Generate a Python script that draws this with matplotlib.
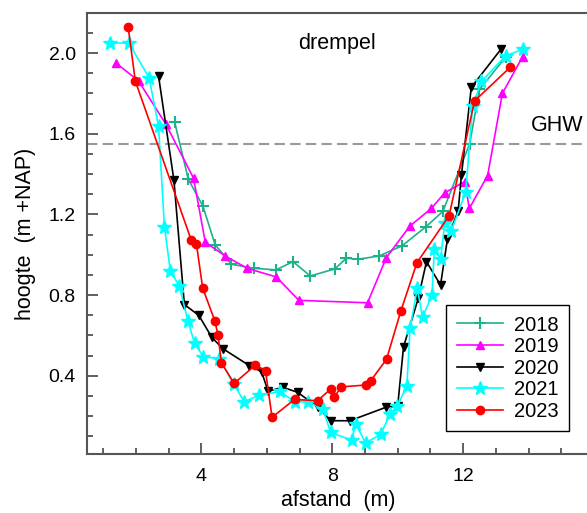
import matplotlib
matplotlib.use("Agg")
import matplotlib.pyplot as plt
from matplotlib.ticker import MultipleLocator

plt.rcParams['font.family'] = ['Liberation Sans', 'DejaVu Sans']

# dwarsprofielen drempel, afstand (m) en hoogte (m +NAP)
x2018 = [3.18, 3.60, 4.05, 4.42, 4.92, 5.61, 6.28, 6.80, 7.33, 8.08, 8.43, 8.79, 9.43, 10.13, 10.87, 11.38, 12.20, 12.50, 13.30]
y2018 = [1.66, 1.375, 1.24, 1.05, 0.953, 0.933, 0.925, 0.966, 0.895, 0.93, 0.983, 0.978, 0.994, 1.044, 1.14, 1.215, 1.55, 1.82, 1.98]

x2019 = [1.40, 2.08, 2.91, 3.76, 4.12, 4.73, 5.40, 6.29, 6.98, 9.08, 9.65, 10.37, 11.03, 11.44, 12.05, 12.19, 12.75, 13.20, 13.82]
y2019 = [1.95, 1.862, 1.649, 1.38, 1.062, 0.994, 0.933, 0.89, 0.774, 0.762, 0.985, 1.142, 1.23, 1.308, 1.363, 1.23, 1.393, 1.80, 1.983]

x2020 = [2.69, 3.16, 3.48, 3.92, 4.32, 4.66, 5.47, 5.84, 6.04, 6.49, 6.94, 7.56, 7.95, 8.54, 9.63, 10.00, 10.18, 10.63, 10.88, 11.31, 11.52, 11.85, 11.95, 12.25, 13.16]
y2020 = [1.887, 1.371, 0.753, 0.70, 0.59, 0.534, 0.45, 0.42, 0.323, 0.343, 0.318, 0.245, 0.177, 0.177, 0.243, 0.25, 0.544, 0.784, 0.966, 0.85, 1.077, 1.219, 1.396, 1.83, 2.02]

x2021 = [1.22, 1.78, 2.40, 2.69, 2.87, 3.05, 3.33, 3.59, 3.79, 4.06, 4.55, 4.99, 5.31, 5.77, 6.39, 6.86, 7.25, 7.72, 7.95, 8.59,
         8.72, 9.02, 9.48, 9.77, 9.99, 10.28, 10.38, 10.60, 10.76, 11.05, 11.12, 11.31, 11.44, 11.64, 12.08, 12.29, 12.56, 13.30, 13.84]
y2021 = [2.05, 2.05, 1.879, 1.639, 1.14, 0.921, 0.843, 0.67, 0.562, 0.494, 0.485, 0.358, 0.272, 0.303, 0.322, 0.272, 0.272, 0.233, 0.119, 0.081,
         0.16, 0.067, 0.109, 0.211, 0.25, 0.349, 0.638, 0.834, 0.69, 0.80, 1.03, 0.978, 1.16, 1.12, 1.31, 1.738, 1.86, 1.987, 2.02]

x2023 = [1.76, 1.98, 3.69, 3.85, 4.04, 4.41, 4.51, 4.61, 5.00, 5.65, 5.96, 6.16, 6.85, 7.55, 7.95, 8.05, 8.28, 9.02, 9.17, 9.66, 10.10, 10.59, 11.57, 12.35, 13.44]
y2023 = [2.132, 1.862, 1.073, 1.052, 0.835, 0.673, 0.602, 0.465, 0.362, 0.453, 0.425, 0.194, 0.283, 0.276, 0.334, 0.293, 0.345, 0.354, 0.374, 0.482, 0.723, 0.961, 1.193, 1.763, 1.93]

ghw = 1.55

fig = plt.figure(figsize=(5.87, 5.13), dpi=100)
# rechterkant van de assen valt net buiten de figuur
ax = fig.add_axes([0.148, 0.115, 0.8555, 0.860])

ax.axhline(ghw, color='#999999', lw=1.5, dashes=(5, 2.5), zorder=1)

ax.plot(x2018, y2018, color='#1db38a', marker='+', ms=8, mew=1.5, lw=1.2, label='2018')
ax.plot(x2019, y2019, color='#ff00ff', marker='^', ms=6, lw=1.2, label='2019')
ax.plot(x2020, y2020, color='black', marker='v', ms=6, lw=1.2, label='2020')
ax.plot(x2021, y2021, color='#00ffff', marker='*', ms=10.5, lw=1.2, label='2021')
ax.plot(x2023, y2023, color='#ff0000', marker='o', ms=6, lw=1.2, label='2023')

ax.text(8.14, 2.05, 'drempel', fontsize=15.5, ha='center', va='center')
ax.text(14.07, 1.64, 'GHW', fontsize=15.5, ha='left', va='center')

ax.set_xlim(0.5, 15.85)
ax.set_ylim(0.012, 2.2)
ax.xaxis.set_major_locator(MultipleLocator(4))
ax.xaxis.set_minor_locator(MultipleLocator(1))
ax.yaxis.set_major_locator(MultipleLocator(0.4))
ax.yaxis.set_minor_locator(MultipleLocator(0.1))
ax.yaxis.set_major_formatter(plt.FormatStrFormatter('%.1f'))
ax.tick_params(which='both', direction='in', width=1.2, color='#444444', labelsize=14)
ax.tick_params(which='major', length=8)
ax.tick_params(which='minor', length=4.5)
ax.tick_params(axis='x', pad=10)
ax.tick_params(axis='y', pad=8)
for s in ax.spines.values():
    s.set_linewidth(1.5)
    s.set_color('#555555')

ax.set_xlabel('afstand  (m)', fontsize=15.5, labelpad=4)
ax.set_ylabel('hoogte  (m +NAP)', fontsize=15.5, labelpad=9)

leg = ax.legend(loc='lower left', bbox_to_anchor=(0.716, 0.052), borderaxespad=0,
                fontsize=14.5, fancybox=False, edgecolor='black', framealpha=1,
                handlelength=2.3, handletextpad=0.55, borderpad=0.5,
                labelspacing=0.13, numpoints=1)
leg.get_frame().set_linewidth(1.0)

fig.savefig('out.png', dpi=100)
